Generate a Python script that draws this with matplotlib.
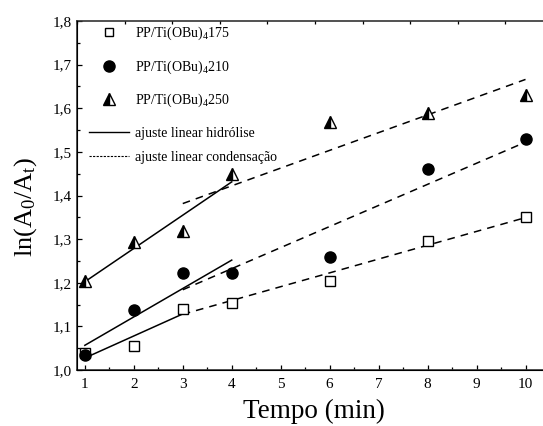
import numpy as np
import matplotlib
matplotlib.use('Agg')
import matplotlib.pyplot as plt
from matplotlib.lines import Line2D
from matplotlib.ticker import MultipleLocator, FuncFormatter

plt.rcParams['font.family'] = ['Liberation Serif', 'DejaVu Serif']
plt.rcParams['mathtext.fontset'] = 'custom'
plt.rcParams['mathtext.rm'] = 'Liberation Serif'
plt.rcParams['mathtext.it'] = 'Liberation Serif'
plt.rcParams['mathtext.default'] = 'regular'

# tempo (min) e ln(A0/At) para cada amostra
tempo = [1, 2, 3, 4, 6, 8, 10]
pp175 = [1.039, 1.055, 1.140, 1.154, 1.204, 1.296, 1.351]
pp210 = [1.034, 1.138, 1.222, 1.223, 1.259, 1.460, 1.529]
pp250 = [1.204, 1.294, 1.319, 1.450, 1.569, 1.589, 1.631]

# faixas de tempo usadas nos ajustes lineares
hidr_175 = (1, 3)
hidr_outros = (1, 4)
cond_todos = (3, 10)

rotulos = [r'PP/Ti(OBu)$_4$175', r'PP/Ti(OBu)$_4$210', r'PP/Ti(OBu)$_4$250']


def ajuste(x, y, faixa):
    x = np.asarray(x, float)
    y = np.asarray(y, float)
    m = (x >= faixa[0]) & (x <= faixa[1])
    a, b = np.polyfit(x[m], y[m], 1)
    xs = np.array(faixa, float)
    return xs, a * xs + b


fig = plt.figure(figsize=(5.43, 4.26), dpi=100)
ax = fig.add_axes([77 / 543, 56 / 426, 473 / 543, 349 / 426])

lk = dict(color='black', lw=1.1)
dk = dict(color='black', lw=1.1, dashes=(5, 4))
for serie, fh in [(pp175, hidr_175), (pp210, hidr_outros), (pp250, hidr_outros)]:
    ax.plot(*ajuste(tempo, serie, fh), **lk)
    ax.plot(*ajuste(tempo, serie, cond_todos), **dk)

ax.plot(tempo, pp175, ls='none', marker='s', ms=7, mfc='white', mec='black', mew=1.0)
ax.plot(tempo, pp210, ls='none', marker='o', ms=8, mfc='black', mec='black')
ax.plot(tempo, pp250, ls='none', marker='^', ms=8.5, fillstyle='left',
        mfc='black', markerfacecoloralt='white', mec='black', mew=1.0)

ax.set_xlim(0.84, 10.5)
ax.set_ylim(1.0, 1.8)
ax.xaxis.set_major_locator(MultipleLocator(1))
ax.xaxis.set_minor_locator(MultipleLocator(0.5))
ax.yaxis.set_major_locator(MultipleLocator(0.1))
ax.yaxis.set_minor_locator(MultipleLocator(0.05))
ax.yaxis.set_major_formatter(FuncFormatter(lambda v, p: f'{v:.1f}'.replace('.', ',')))
ax.tick_params(which='both', direction='in', labelsize=11, color='black')
ax.tick_params(which='major', length=3.8, width=0.9)
ax.tick_params(which='minor', length=2.3, width=0.9)
ax.tick_params(axis='x', pad=6)
for s in ax.spines.values():
    s.set_linewidth(1.2)
    s.set_color('#333333')
ax.spines['right'].set_visible(False)

# eixo superior so com marcas
top = ax.twiny()
top.set_xlim(0, 473 / 47.6)
top.xaxis.set_major_locator(MultipleLocator(1))
top.tick_params(axis='x', direction='in', length=2.5, width=0.9, labeltop=False)
top.spines['right'].set_visible(False)
top.spines['top'].set_visible(False)

ax.set_xlabel('Tempo (min)', fontsize=19.5, labelpad=5.5)
ax.set_ylabel(r'ln(A$_0$/A$_t$)', fontsize=19)
ax.yaxis.set_label_coords(-0.081, 0.468)

h_pts = [
    Line2D([], [], ls='none', marker='s', ms=6, mfc='white', mec='black'),
    Line2D([], [], ls='none', marker='o', ms=8, mfc='black', mec='black'),
    Line2D([], [], ls='none', marker='^', ms=8, fillstyle='left', mfc='black',
           markerfacecoloralt='white', mec='black'),
]
leg1 = ax.legend(h_pts, rotulos, loc='upper left', bbox_to_anchor=(0.0, 1.022),
                 frameon=False, fontsize=10, handlelength=2.9, handletextpad=0.45,
                 labelspacing=1.15, borderaxespad=0.45)
ax.add_artist(leg1)
h_lin = [Line2D([], [], color='black', lw=1.0),
         Line2D([], [], color='black', lw=0.8, dashes=(2, 1.2))]
ax.legend(h_lin, ['ajuste linear hidrólise', 'ajuste linear condensação'],
          loc='upper left', bbox_to_anchor=(0.0, 0.73), frameon=False, fontsize=10,
          handlelength=2.9, handletextpad=0.45, labelspacing=0.8, borderaxespad=0.45)

fig.savefig('out.png', dpi=100)
